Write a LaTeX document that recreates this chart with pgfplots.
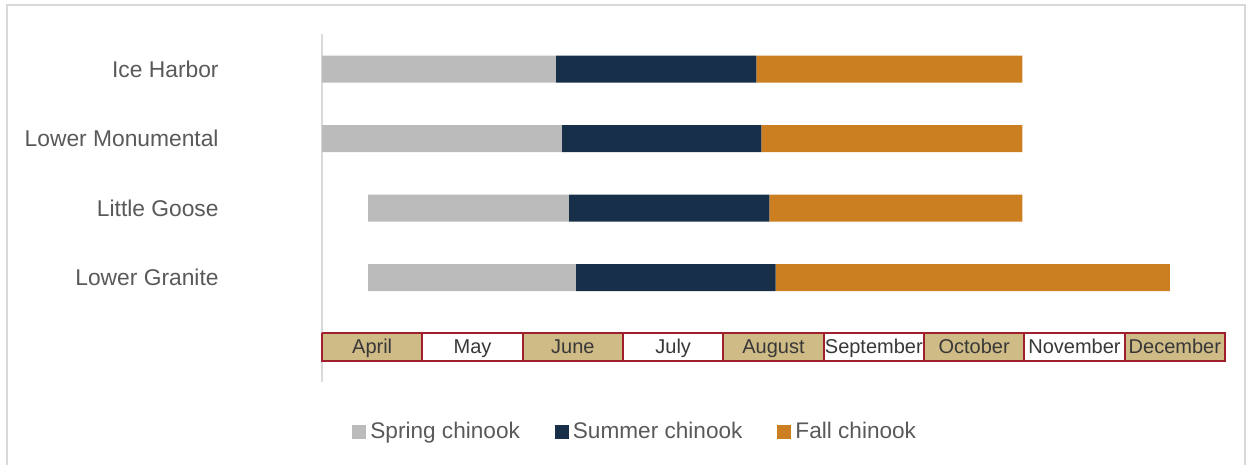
\documentclass[border=0pt]{standalone}
\usepackage{pgfplots}
\pgfplotsset{compat=1.18}
\usepackage{fontspec}
\setmainfont{Liberation Sans}
\definecolor{spring}{HTML}{BBBBBB}
\definecolor{summer}{HTML}{172F48}
\definecolor{fall}{HTML}{CC7F20}
\definecolor{tanbox}{HTML}{CFBB86}
\definecolor{mred}{HTML}{A01F2C}
\definecolor{txt}{HTML}{595959}
\pgfplotsset{chartgeom/.style={
  at={(161pt,41.625pt)}, anchor=south west,
  scale only axis, width=451.5pt, height=173.75pt,
  xmin=0, xmax=9, ymin=-0.5, ymax=4.5, y dir=reverse, clip=false}}
\begin{document}
\begin{tikzpicture}
\path[use as bounding box] (0,0) rectangle (625pt,232.5pt);
\draw[black!15, line width=1pt] (3.5pt,-3pt) -- (3.5pt,230pt) -- (622.5pt,230pt) -- (622.5pt,-3pt);
\begin{axis}[
  chartgeom,
  xbar stacked, bar width=13.5pt,
  axis x line=none, axis y line*=left,
  axis line style={black!15, line width=1pt, -},
  ytick={0,1,2,3},
  yticklabels={Ice Harbor, Lower Monumental, Little Goose, Lower Granite},
  major tick length=0pt,
  yticklabel style={font=\fontsize{11.4}{13}\selectfont, text=txt, inner sep=0pt, xshift=-51.5pt},
  legend style={at={(0.3480,-0.1446)}, anchor=center, draw=none, fill=none,
    legend columns=-1, font=\fontsize{11.3}{13}\selectfont, text=txt,
    /tikz/every even column/.append style={column sep=15.5pt}},
  legend image code/.code={\fill[#1] (0pt,-3.5pt) rectangle (7pt,3.5pt);},
]
% invisible offsets (start of passage, months after 1 April)
\addplot[draw=none, fill=none, forget plot] coordinates {(0,0) (0,1) (0.46,2) (0.46,3)};
\addplot[draw=none, fill=spring] coordinates {(2.33,0) (2.39,1) (2.00,2) (2.07,3)};
\addlegendentry{Spring chinook}
\addplot[draw=none, fill=summer] coordinates {(2.00,0) (1.99,1) (2.00,2) (1.99,3)};
\addlegendentry{Summer chinook}
\addplot[draw=none, fill=fall] coordinates {(2.65,0) (2.60,1) (2.52,2) (3.93,3)};
\addlegendentry{Fall chinook}
\end{axis}
\begin{axis}[chartgeom, hide axis]
% month boxes
\addplot[sharp plot, fill=tanbox, draw=mred, line width=1pt] coordinates {(0,3.8) (1,3.8) (1,4.2) (0,4.2) (0,3.8)};
\addplot[sharp plot, fill=white, draw=mred, line width=1pt] coordinates {(1,3.8) (2,3.8) (2,4.2) (1,4.2) (1,3.8)};
\addplot[sharp plot, fill=tanbox, draw=mred, line width=1pt] coordinates {(2,3.8) (3,3.8) (3,4.2) (2,4.2) (2,3.8)};
\addplot[sharp plot, fill=white, draw=mred, line width=1pt] coordinates {(3,3.8) (4,3.8) (4,4.2) (3,4.2) (3,3.8)};
\addplot[sharp plot, fill=tanbox, draw=mred, line width=1pt] coordinates {(4,3.8) (5,3.8) (5,4.2) (4,4.2) (4,3.8)};
\addplot[sharp plot, fill=white, draw=mred, line width=1pt] coordinates {(5,3.8) (6,3.8) (6,4.2) (5,4.2) (5,3.8)};
\addplot[sharp plot, fill=tanbox, draw=mred, line width=1pt] coordinates {(6,3.8) (7,3.8) (7,4.2) (6,4.2) (6,3.8)};
\addplot[sharp plot, fill=white, draw=mred, line width=1pt] coordinates {(7,3.8) (8,3.8) (8,4.2) (7,4.2) (7,3.8)};
\addplot[sharp plot, fill=tanbox, draw=mred, line width=1pt] coordinates {(8,3.8) (9,3.8) (9,4.2) (8,4.2) (8,3.8)};
% month labels
\addplot[only marks, mark=none,
  nodes near coords, point meta=explicit symbolic,
  every node near coord/.append style={anchor=center, inner sep=0pt,
    text height=7.2pt, text depth=2.1pt, yshift=-0.6pt,
    font=\fontsize{10}{12}\selectfont, text=black!78}]
  table[meta=label] {
x y label
0.5 4 April
1.5 4 May
2.5 4 June
3.5 4 July
4.5 4 August
5.5 4 September
6.5 4 October
7.5 4 November
8.5 4 December
};
\end{axis}
\end{tikzpicture}
\end{document}
